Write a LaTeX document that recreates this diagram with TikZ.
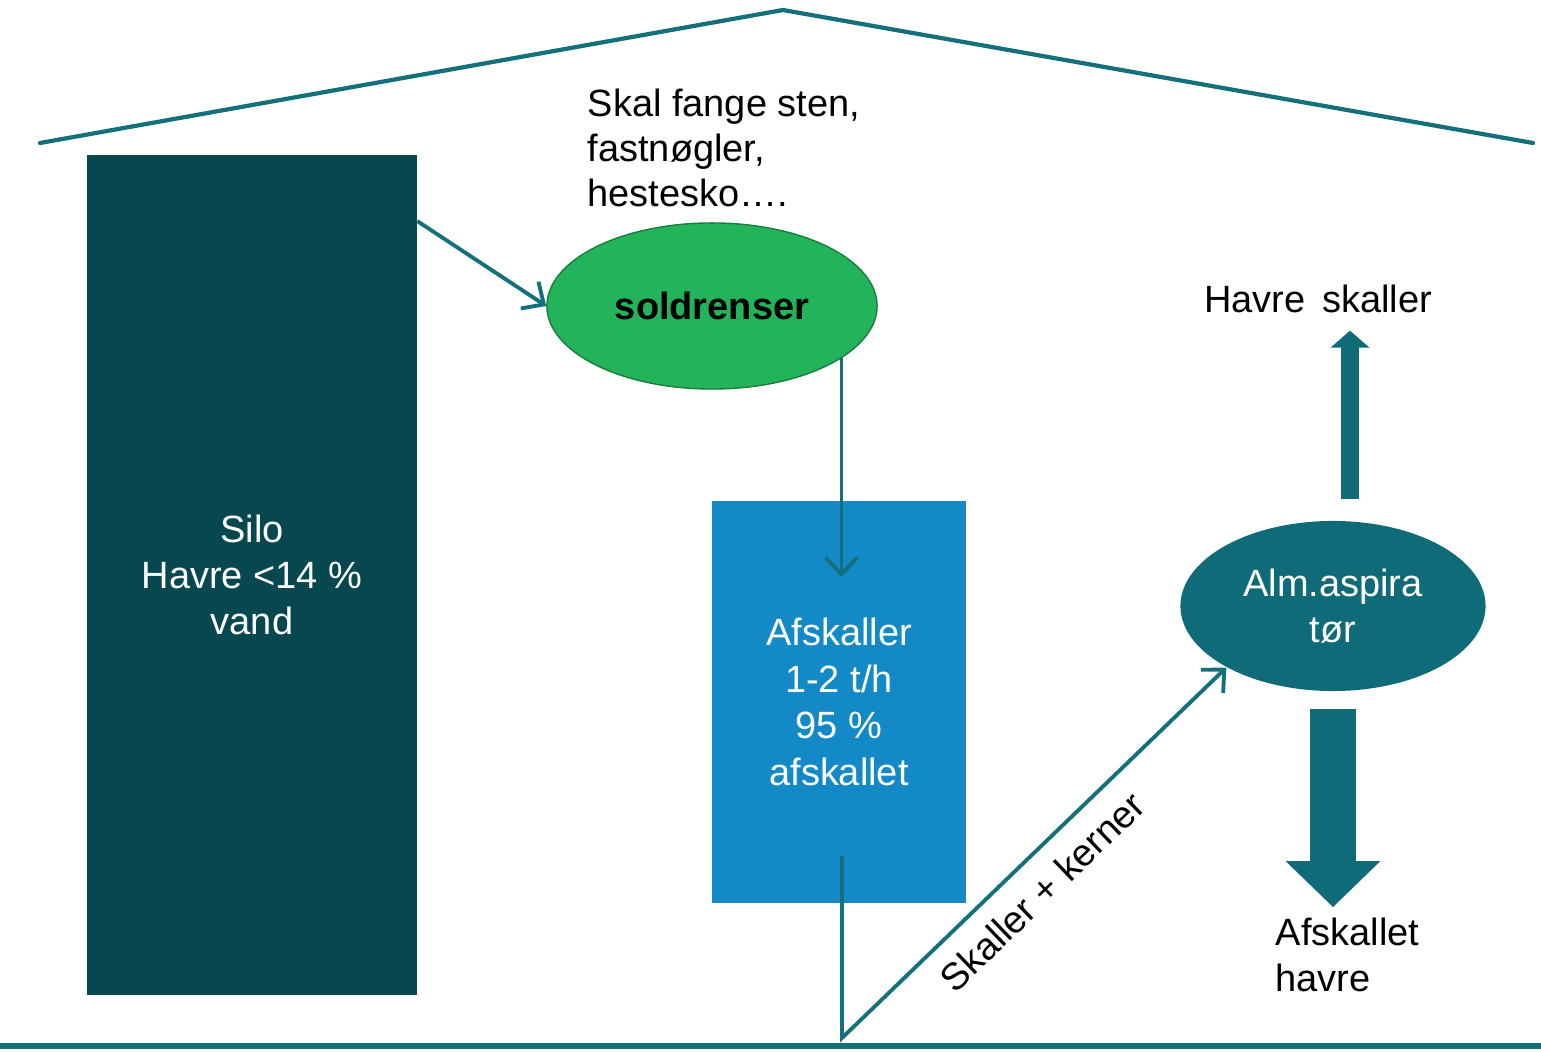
\documentclass[tikz,border=0pt]{standalone}
\usepackage{fontspec}
\setmainfont{Liberation Sans}
\usetikzlibrary{arrows.meta,shapes.geometric}

\definecolor{siloteal}{HTML}{074850}
\definecolor{lineteal}{HTML}{14707A}
\definecolor{aspteal}{HTML}{0F6B77}
\definecolor{soldgreen}{HTML}{22B35B}
\definecolor{afskblue}{HTML}{1389C7}

\tikzset{
	txt/.style={font=\fontsize{10.8}{13.2}\selectfont,align=center,inner sep=0.1cm},
	wall/.style={draw=lineteal,line width=1.2pt,line cap=round},
	flow/.style={draw=lineteal,line width=1.1pt,-{Straight Barb[length=0.17cm,width=0.32cm]}},
	blockup/.style={draw=aspteal,line width=0.18cm,-{Triangle[length=0.17cm,width=0.38cm]}},
	blockdown/.style={draw=aspteal,line width=0.46cm,-{Triangle[length=0.46cm,width=0.92cm]}},
}

\begin{document}
\begin{tikzpicture}[x=0.01cm,y=-0.01cm]
	\useasboundingbox (0,0) rectangle (1541,1052);
	% roof and floor
	\draw[wall] (40,143) -- (783,10) -- (1533,143);
	\draw[wall,line width=1.5pt] (0,1046) -- (1541,1046);

	\node[txt,fill=siloteal,text=white,minimum width=3.29cm,minimum height=8.4cm] (silo) at (252,575) {Silo\\Havre <14 \%\\vand};
	\node[txt,ellipse,fill=soldgreen,draw=soldgreen!70!black,line width=0.4pt,inner sep=0,
		minimum width=3.3cm,minimum height=1.66cm,font=\fontsize{10.8}{13.2}\selectfont\bfseries] (sold) at (712,306) {soldrenser};
	\node[txt,align=left,anchor=west,font=\fontsize{10.8}{12.8}\selectfont] (note) at (577,148) {Skal fange sten,\\fastnøgler,\\hestesko….};
	\node[txt,fill=afskblue,text=white,minimum width=2.54cm,minimum height=4.02cm] (afsk) at (839,702) {Afskaller\\1-2 t/h\\95 \%\\afskallet};
	\node[txt,ellipse,fill=aspteal,text=white,inner sep=0,minimum width=3.05cm,minimum height=1.7cm] (asp) at (1333,606) {Alm.aspira\\tør};
	\node[txt] (skal) at (1318,299) {Havre\, skaller};
	\node[txt,align=left,anchor=west] (havre) at (1265,955) {Afskallet\\havre};

	\coordinate (afskin) at ([yshift=-0.77cm]afsk.north);
	\coordinate (afskout) at ([xshift=0.03cm,yshift=0.48cm]afsk.south);
	\coordinate (knee) at (842,1038);
	\coordinate (upbase) at ([xshift=0.17cm,yshift=0.21cm]asp.north);
	\coordinate (downbase) at ([yshift=-0.17cm]asp.south);

	\draw[flow] ([yshift=-0.67cm]silo.north east) -- (sold.west);
	\draw[flow] (sold.-22.5) -- (sold.-22.5 |- afskin);
	\draw[flow] (afskout) -- (knee) -- node[txt,pos=0.46,below=5pt,sloped,inner sep=0]{Skaller + kerner} (asp.210);

	% block arrows out of the aspirator
	\draw[blockup,shorten >=0.07cm] (upbase) -- (upbase |- skal.south);
	\draw[blockdown] (downbase) -- (downbase |- havre.north);
\end{tikzpicture}
\end{document}
